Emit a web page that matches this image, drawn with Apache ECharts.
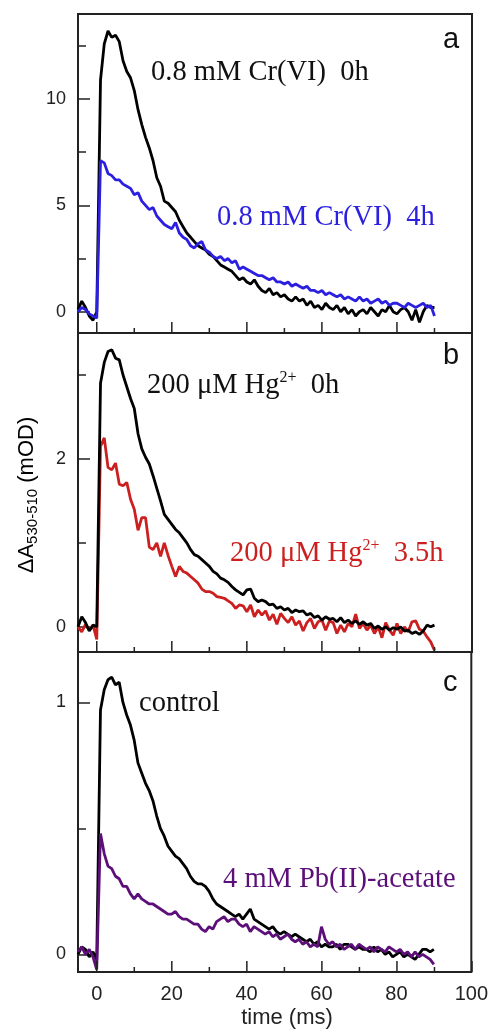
<!DOCTYPE html>
<html>
<head>
<meta charset="utf-8">
<script src="https://cdn.jsdelivr.net/npm/echarts@6/dist/echarts.min.js"></script>
<style>
  html, body { margin: 0; padding: 0; background: #fff; }
  #chart { width: 491px; height: 1032px; }
</style>
</head>
<body>
<div id="chart"></div>
<script>
// time axis (ms)
var time = [-5,-4,-3,-2,-1,0,1,2,3,4,5,6,7,8,9,10,11,12,13,14,15,16,17,18,19,20,
  21,22,23,24,25,26,27,28,29,30,31,32,33,34,35,36,37,38,39,40,41,42,43,44,45,
  46,47,48,49,50,51,52,53,54,55,56,57,58,59,60,61,62,63,64,65,66,67,68,69,70,
  71,72,73,74,75,76,77,78,79,80,81,82,83,84,85,86,87,88,89,90];

// panel a
var cr0h = [0.1,0.5,0.2,-0.2,-0.4,0.0,10.9,12.6,13.2,12.9,13.0,12.7,11.8,11.3,11.0,10.4,
  9.5,8.8,8.2,7.7,7.1,6.3,5.9,5.2,5.1,4.9,4.7,4.3,4.0,3.7,3.5,3.3,3.1,3.0,2.9,2.7,
  2.6,2.4,2.2,2.1,2.0,1.9,1.7,1.5,1.6,1.4,1.3,1.5,1.2,1.0,0.9,1.1,0.8,0.9,0.7,0.8,
  0.6,0.5,0.7,0.5,0.6,0.3,0.5,0.2,0.3,0.1,0.4,0.2,0.1,0.3,0.0,0.2,-0.1,0.1,-0.2,0.0,
  0.1,-0.1,0.2,0.0,-0.2,0.1,0.0,0.3,0.0,-0.1,0.1,0.2,0.0,-0.4,0.1,-0.5,0.0,0.3,0.2,0.2];
var cr4h = [0.0,0.2,0.1,-0.1,-0.2,-0.3,7.1,7.0,6.5,6.4,6.2,6.2,6.0,5.9,5.8,5.5,
  5.6,5.2,5.0,4.8,4.9,4.5,4.3,4.1,4.0,3.9,4.2,3.7,3.5,3.4,3.1,3.0,3.2,3.3,2.9,2.8,
  2.6,2.5,2.6,2.4,2.5,2.3,2.4,2.0,2.1,2.0,1.9,1.8,1.7,1.7,1.6,1.5,1.6,1.4,1.4,1.3,
  1.4,1.2,1.3,1.2,1.1,1.2,1.0,1.0,0.9,1.0,0.8,0.9,0.8,0.7,0.8,0.6,0.7,0.6,0.5,0.7,
  0.5,0.6,0.4,0.5,0.6,0.4,0.5,0.3,0.4,0.4,0.3,0.2,0.4,0.3,0.2,0.3,0.4,0.2,0.3,-0.2];

// panel b
var hg0h = [0.0,0.12,0.05,-0.05,0.02,0.0,2.9,3.15,3.28,3.3,3.2,3.18,3.0,2.86,2.72,2.6,
  2.3,2.12,2.02,1.94,1.8,1.65,1.5,1.34,1.28,1.22,1.16,1.12,1.06,1.0,0.92,0.86,0.84,
  0.80,0.76,0.72,0.66,0.63,0.58,0.56,0.53,0.48,0.44,0.41,0.38,0.44,0.45,0.34,0.30,
  0.32,0.30,0.26,0.27,0.22,0.24,0.20,0.22,0.17,0.20,0.18,0.19,0.14,0.16,0.11,0.13,
  0.08,0.12,0.09,0.10,0.06,0.11,0.05,0.08,0.04,0.07,0.03,0.06,0.02,0.04,-0.02,0.01,
  -0.03,0.0,-0.04,-0.01,-0.03,0.0,-0.05,-0.04,-0.08,-0.06,-0.09,-0.05,0.02,0.0,0.02];
var hg35h = [0.0,-0.06,0.03,-0.04,0.02,-0.15,2.15,2.25,1.9,1.87,1.95,1.7,1.68,1.72,1.52,
  1.4,1.15,1.3,1.3,0.95,0.92,1.0,0.84,1.0,0.85,0.72,0.6,0.72,0.66,0.64,0.6,0.56,0.52,
  0.45,0.42,0.42,0.40,0.36,0.35,0.34,0.31,0.28,0.22,0.26,0.25,0.18,0.26,0.12,0.20,
  0.14,0.19,0.08,0.15,0.03,0.16,0.10,0.05,0.12,0.02,0.07,-0.05,0.05,0.10,-0.02,0.06,
  0.08,-0.04,0.07,0.05,-0.08,0.02,-0.06,0.04,0.0,0.15,-0.02,0.04,-0.04,0.02,-0.08,
  0.0,-0.13,0.05,-0.04,-0.10,0.04,-0.08,0.0,-0.06,0.06,0.07,-0.03,-0.05,-0.12,-0.18,-0.28];

// panel c
var control = [0.0,0.03,0.02,-0.01,0.01,-0.02,0.97,1.05,1.09,1.10,1.07,1.08,1.0,0.95,
  0.91,0.85,0.76,0.72,0.68,0.65,0.61,0.55,0.50,0.47,0.43,0.41,0.39,0.38,0.36,0.34,
  0.31,0.29,0.28,0.28,0.27,0.25,0.22,0.20,0.19,0.18,0.17,0.16,0.15,0.16,0.14,0.16,
  0.18,0.14,0.13,0.12,0.11,0.10,0.11,0.09,0.08,0.09,0.08,0.07,0.08,0.07,0.06,0.05,
  0.06,0.04,0.05,0.03,0.04,0.03,0.03,0.04,0.02,0.04,0.04,0.03,0.02,0.03,0.02,0.02,
  0.01,0.03,0.01,0.02,0.0,0.01,-0.01,0.0,0.01,-0.01,0.0,-0.01,-0.02,0.0,0.02,0.02,0.01,0.02];
var pbAcetate = [0.01,0.03,0.0,0.02,-0.01,-0.06,0.48,0.40,0.35,0.34,0.31,0.30,0.27,0.27,
  0.24,0.22,0.24,0.22,0.21,0.20,0.20,0.19,0.18,0.17,0.16,0.16,0.17,0.15,0.14,0.14,
  0.13,0.12,0.12,0.10,0.09,0.11,0.10,0.13,0.14,0.15,0.13,0.14,0.14,0.12,0.11,0.12,
  0.09,0.11,0.10,0.09,0.08,0.09,0.07,0.08,0.06,0.07,0.08,0.06,0.05,0.06,0.04,0.05,
  0.03,0.04,0.03,0.11,0.06,0.04,0.05,0.03,0.04,0.02,0.03,0.04,0.02,0.04,0.03,0.02,
  0.03,0.01,0.03,0.02,0.01,0.03,0.02,0.01,0.02,0.0,0.01,-0.01,0.01,-0.01,0.0,-0.01,-0.02,-0.04];

// tick positions
var xMajor = [0, 20, 40, 60, 80, 100];
var xMinor = [10, 30, 50, 70, 90];
var yMajorA = [0, 5, 10], yMinorA = [2.5, 7.5, 12.5];
var yMajorB = [0, 2],     yMinorB = [1, 3];
var yMajorC = [0, 1],     yMinorC = [0.5];

function pairs(ys) {
  return time.map(function (t, i) { return [t, ys[i]]; });
}

var X_MIN = -5, X_MAX = 100, GRID_LEFT = 78, GRID_WIDTH = 394;
var panels = [
  { top: 14,  height: 319, min: -1,    max: 14,  major: yMajorA, minor: yMinorA },
  { top: 333, height: 319, min: -0.3,  max: 3.5, major: yMajorB, minor: yMinorB },
  { top: 652, height: 320, min: -0.07, max: 1.2, major: yMajorC, minor: yMinorC }
];

var axisColor = '#222';
var grids = [], xAxes = [], yAxes = [];
function ticks(len, vals) {
  return { show: true, inside: true, length: len, customValues: vals,
    lineStyle: { color: axisColor, width: 1.5 } };
}
panels.forEach(function (p, i) {
  grids.push({
    left: GRID_LEFT, width: GRID_WIDTH, top: p.top, height: p.height,
    show: true, borderColor: axisColor, borderWidth: 2, backgroundColor: 'transparent'
  });
  xAxes.push({
    type: 'value', gridIndex: i, min: X_MIN, max: X_MAX, position: 'bottom',
    axisLine: { show: false, onZero: false }, splitLine: { show: false },
    axisTick: { show: false },
    axisLabel: { show: i === panels.length - 1, customValues: xMajor, margin: 12,
      fontFamily: 'Liberation Sans', fontSize: 20, color: '#222' }
  });
  yAxes.push({
    type: 'value', gridIndex: i, min: p.min, max: p.max, position: 'left',
    axisLine: { show: false, onZero: false }, splitLine: { show: false },
    axisTick: ticks(12, p.major),
    axisLabel: { customValues: p.major, margin: 12,
      fontFamily: 'Liberation Sans', fontSize: 18, color: '#222' }
  });
  yAxes.push({
    type: 'value', gridIndex: i, min: p.min, max: p.max, position: 'left',
    axisLine: { show: false, onZero: false }, splitLine: { show: false },
    axisTick: ticks(8, p.minor),
    axisLabel: { show: false }
  });
});

function line(panel, ys, color) {
  return {
    type: 'line', xAxisIndex: panel, yAxisIndex: panel * 2,
    data: pairs(ys), showSymbol: false, animation: false,
    lineStyle: { color: color, width: 2.8 }
  };
}

var BLUE = '#2b1fe0', RED = '#cc1f1f', PURPLE = '#5c0f78';

var serif = 'Liberation Serif';
function note(text, x, y, color, rich) {
  return {
    type: 'text', x: x, y: y, z: 10,
    style: {
      text: text, fill: color, fontFamily: serif, fontSize: 28.5,
      verticalAlign: 'middle', align: 'left', rich: rich
    }
  };
}
function hgRich(color) {
  return {
    n: { fontFamily: serif, fontSize: 28.5, color: color, lineHeight: 32 },
    sup: { fontFamily: serif, fontSize: 16, color: color, verticalAlign: 'top', lineHeight: 14 }
  };
}
function letter(t, y) {
  return {
    type: 'text', x: 443, y: y, z: 10,
    style: { text: t, fill: '#111', fontFamily: 'Liberation Sans', fontSize: 29,
      verticalAlign: 'middle', align: 'left' }
  };
}

// inward time ticks along the bottom edge of each panel (same linear mapping as the time axis)
var tickBars = [];
panels.forEach(function (p) {
  var bottom = p.top + p.height;
  xMajor.concat(xMinor).forEach(function (v) {
    var x = GRID_LEFT + (v - X_MIN) / (X_MAX - X_MIN) * GRID_WIDTH;
    var len = xMajor.indexOf(v) >= 0 ? 11 : 5;
    tickBars.push({
      type: 'rect', z: 50, silent: true,
      shape: { x: x - 0.75, y: bottom - len, width: 1.5, height: len },
      style: { fill: axisColor }
    });
  });
});

var texts = [
  note('0.8 mM Cr(VI)  0h', 151, 73, '#111'),
  note('0.8 mM Cr(VI)  4h', 217, 218, BLUE),
  note('{n|200 μM Hg}{sup|2+}{n|  0h}', 147, 386, '#111', hgRich('#111')),
  note('{n|200 μM Hg}{sup|2+}{n|  3.5h}', 230, 554, RED, hgRich(RED)),
  note('control', 139, 704, '#111'),
  note('4 mM Pb(II)-acetate', 223, 880, PURPLE),
  letter('a', 40),
  letter('b', 356),
  letter('c', 683),
  {
    type: 'text', x: 287, y: 1018,
    style: { text: 'time (ms)', fill: '#222', fontFamily: 'Liberation Sans', fontSize: 22,
      align: 'center', verticalAlign: 'middle' }
  },
  {
    type: 'text', x: 27, y: 495, rotation: Math.PI / 2,
    style: {
      text: '{m|ΔA}{s|530-510}{m| (mOD)}', align: 'center', verticalAlign: 'middle',
      rich: {
        m: { fontFamily: 'Liberation Sans', fontSize: 22, color: '#222', lineHeight: 27 },
        s: { fontFamily: 'Liberation Sans', fontSize: 15, color: '#222', lineHeight: 15, verticalAlign: 'bottom' }
      }
    }
  }
];

var chart = echarts.init(document.getElementById('chart'), null, { renderer: 'canvas' });
chart.setOption({
  animation: false,
  backgroundColor: '#fff',
  grid: grids,
  xAxis: xAxes,
  yAxis: yAxes,
  series: [
    line(0, cr0h, '#000'),
    line(0, cr4h, BLUE),
    line(1, hg35h, RED),
    line(1, hg0h, '#000'),
    line(2, control, '#000'),
    line(2, pbAcetate, PURPLE)
  ],
  graphic: texts.concat(tickBars)
});
</script>
</body>
</html>
